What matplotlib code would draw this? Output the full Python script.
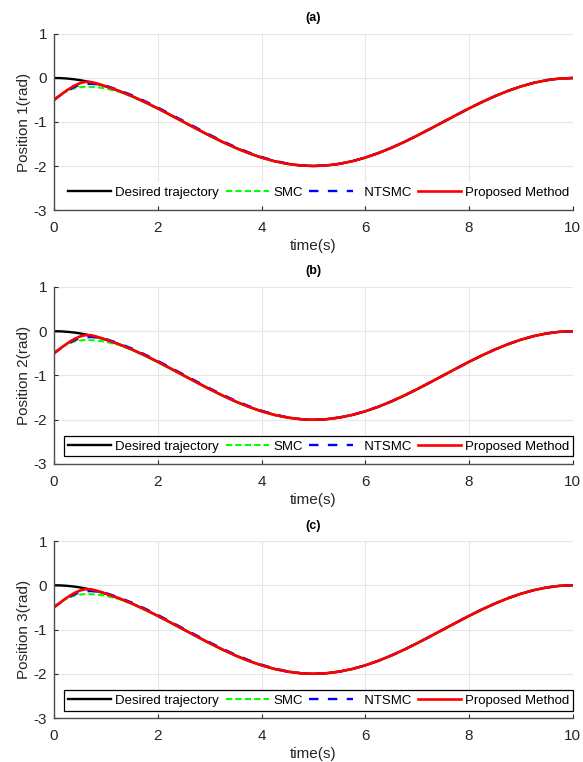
import numpy as np
import matplotlib
matplotlib.use("Agg")
import matplotlib.pyplot as plt

plt.rcParams['font.family'] = ['Liberation Sans', 'DejaVu Sans']
plt.rcParams['axes.unicode_minus'] = False

# time grid (s)
t = [0, 0.1, 0.2, 0.3, 0.4, 0.5, 0.6, 0.7, 0.8, 0.9, 1.0,
     1.25, 1.5, 1.75, 2.0, 2.25, 2.5, 2.75, 3.0, 3.25, 3.5, 3.75, 4.0,
     4.25, 4.5, 4.75, 5.0, 5.25, 5.5, 5.75, 6.0, 6.25, 6.5, 6.75, 7.0,
     7.25, 7.5, 7.75, 8.0, 8.25, 8.5, 8.75, 9.0, 9.25, 9.5, 9.75, 10.0]

# desired trajectory
desired = [0.0, -0.002, -0.008, -0.018, -0.031, -0.049, -0.070, -0.095, -0.124, -0.156, -0.191,
           -0.293, -0.412, -0.546, -0.691, -0.844, -1.000, -1.156, -1.309, -1.454, -1.588, -1.707, -1.809,
           -1.891, -1.951, -1.988, -2.000, -1.988, -1.951, -1.891, -1.809, -1.707, -1.588, -1.454, -1.309,
           -1.156, -1.000, -0.844, -0.691, -0.546, -0.412, -0.293, -0.191, -0.109, -0.049, -0.012, 0.0]

smc = [-0.48, -0.40, -0.33, -0.27, -0.23, -0.21, -0.20, -0.20, -0.21, -0.22, -0.24,
       -0.31, -0.42, -0.555, -0.70, -0.85, -1.005, -1.16, -1.31, -1.455, -1.588, -1.707, -1.809,
       -1.891, -1.951, -1.988, -2.000, -1.988, -1.951, -1.891, -1.809, -1.707, -1.588, -1.454, -1.309,
       -1.156, -1.000, -0.844, -0.691, -0.546, -0.412, -0.293, -0.191, -0.109, -0.049, -0.012, 0.0]

ntsmc = [-0.50, -0.41, -0.33, -0.26, -0.20, -0.16, -0.14, -0.13, -0.14, -0.155, -0.175,
         -0.275, -0.39, -0.525, -0.67, -0.825, -0.98, -1.135, -1.29, -1.435, -1.57, -1.69, -1.795,
         -1.88, -1.945, -1.985, -2.000, -1.988, -1.951, -1.891, -1.809, -1.707, -1.588, -1.454, -1.309,
         -1.156, -1.000, -0.844, -0.691, -0.546, -0.412, -0.293, -0.191, -0.109, -0.049, -0.012, 0.0]

proposed = [-0.50, -0.41, -0.32, -0.24, -0.17, -0.12, -0.09, -0.09, -0.115, -0.15, -0.19,
            -0.293, -0.412, -0.546, -0.691, -0.844, -1.000, -1.156, -1.309, -1.454, -1.588, -1.707, -1.809,
            -1.891, -1.951, -1.988, -2.000, -1.988, -1.951, -1.891, -1.809, -1.707, -1.588, -1.454, -1.309,
            -1.156, -1.000, -0.844, -0.691, -0.546, -0.412, -0.293, -0.191, -0.109, -0.049, -0.012, 0.0]

titles = ['(a)', '(b)', '(c)']
ylabels = ['Position 1(rad)', 'Position 2(rad)', 'Position 3(rad)']
legend_labels = ['Desired trajectory', 'SMC', '  NTSMC', 'Proposed Method']

fig = plt.figure(figsize=(5.83, 7.62), dpi=100)

# axes boxes in figure fraction [left, bottom, width, height]
boxes = [[0.0926, 0.7244, 0.890, 0.231],
         [0.0926, 0.3911, 0.890, 0.2323],
         [0.0926, 0.0577, 0.890, 0.2323]]

tick_col = '#262626'

for i in range(3):
    ax = fig.add_axes(boxes[i])
    ax.plot(t, desired, color='black', lw=1.7, label=legend_labels[0])
    ax.plot(t, smc, color='#00ff00', lw=1.5, ls=(0, (3, 1.5)), label=legend_labels[1])
    ax.plot(t, ntsmc, color='blue', lw=1.7, ls=(0, (4, 4)), label=legend_labels[2])
    ax.plot(t, proposed, color='red', lw=1.9, label=legend_labels[3])

    ax.set_xlim(0, 10)
    ax.set_ylim(-3, 1)
    ax.set_xticks([0, 2, 4, 6, 8, 10])
    ax.set_yticks([-3, -2, -1, 0, 1])
    ax.grid(True, color='#e6e6e6', lw=0.8)
    ax.set_axisbelow(True)
    for s in ['top', 'right']:
        ax.spines[s].set_visible(False)
    for s in ['left', 'bottom']:
        ax.spines[s].set_color('#4d4d4d')
        ax.spines[s].set_linewidth(1.0)
    ax.tick_params(direction='in', length=3, colors=tick_col, labelsize=11)
    ax.tick_params(axis='x', pad=8)
    ax.tick_params(axis='y', pad=5)

    ax.set_title(titles[i], fontsize=9, fontweight='bold', pad=9)
    ax.set_xlabel('time(s)', fontsize=11, color=tick_col, labelpad=3)
    ax.set_ylabel(ylabels[i], fontsize=11, color=tick_col, labelpad=2)

    leg = ax.legend(loc='lower center', ncol=4, fontsize=9.5, frameon=True, fancybox=False,
                    handlelength=3.3, handletextpad=0.3, columnspacing=0.5,
                    borderpad=0.3, bbox_to_anchor=(0.51, 0.005))
    leg.get_frame().set_linewidth(0.9)
    leg.get_frame().set_edgecolor('white' if i == 0 else 'black')
    leg.get_frame().set_alpha(1.0)

fig.savefig('out.png', dpi=100)
